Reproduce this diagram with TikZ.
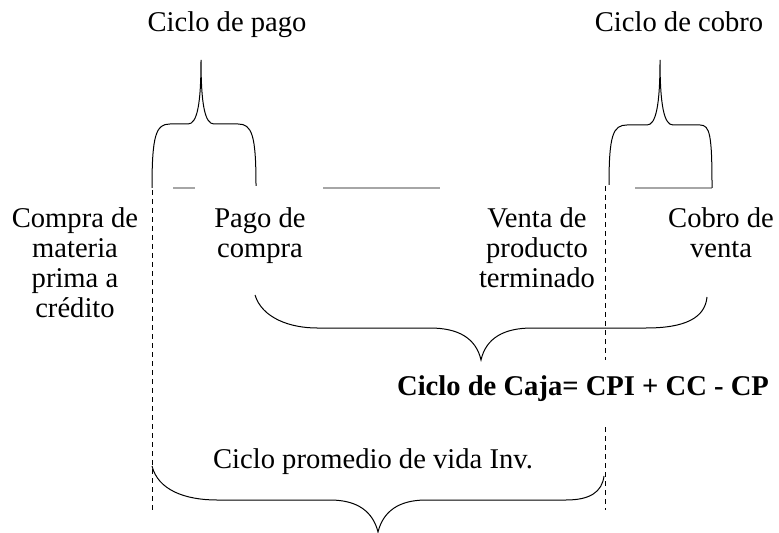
\documentclass[tikz,border=0pt]{standalone}
\usepackage{fontspec}
\setmainfont{Liberation Serif}
\usepackage{tikz}

\begin{document}
\begin{tikzpicture}[x=0.5pt, y=-0.5pt, line width=0.5pt,
  txt/.style={font=\fontsize{14.3}{15}\selectfont, inner sep=0pt, align=center},
  guide/.style={dash pattern=on 2.5pt off 2pt},
  bar/.style={line width=1pt, black!35}]

  \useasboundingbox (0,0) rectangle (779,533);

  \node [txt, anchor=base] (cicloPago)  at (227,32) {Ciclo de pago};
  \node [txt, anchor=base] (cicloCobro) at (679,32) {Ciclo de cobro};

  \node [txt, anchor=north] (compra) at ( 75,207) {Compra de\\materia\\prima a\\crédito};
  \node [txt, anchor=north] (pago)   at (260,207) {Pago de\\compra};
  \node [txt, anchor=north] (venta)  at (537,207) {Venta de\\producto\\terminado};
  \node [txt, anchor=north] (cobro)  at (721,207) {Cobro de\\venta};

  \node [txt, anchor=base, font=\fontsize{14.3}{15}\selectfont\bfseries] (caja) at (583,395) {Ciclo de Caja= CPI + CC - CP};
  \node [txt, anchor=base] (inv) at (373,468) {Ciclo promedio de vida Inv.};

  % time marks
  \draw [guide] (152,190) -- (152,510);
  \draw [guide] (605,186) -- (605,360);
  \draw [guide] (605,427) -- (605,510);

  \draw [bar] (173,188) -- (195,188);
  \draw [bar] (323,188) -- (440,188);
  \draw [bar] (635,188) -- (712,188);

  % braces
  \draw (152,188) .. controls (152,135) and (156,124) .. (170,124) -- (188,124)
        .. controls (197,124) and (201,105) .. (201,60)
        .. controls (201,105) and (205,124) .. (214,124) -- (238,124)
        .. controls (252,124) and (256,135) .. (256,186);
  \draw (609,185) .. controls (609,135) and (613,125) .. (627,125) -- (647,125)
        .. controls (656,125) and (660,105) .. (660,60)
        .. controls (660,105) and (664,125) .. (673,125) -- (700,125)
        .. controls (710,125) and (712,135) .. (712,188);
  \draw (255,295) .. controls (262,318) and (290,328) .. (317,328) -- (430,328)
        .. controls (458,328) and (476,338) .. (481,360)
        .. controls (486,338) and (504,328) .. (532,328) -- (646,328)
        .. controls (685,328) and (705,318) .. (707,297);
  \draw (152,466) .. controls (158,490) and (185,500) .. (217,500) -- (330,500)
        .. controls (358,500) and (373,512) .. (378,532)
        .. controls (383,512) and (398,500) .. (426,500) -- (566,500)
        .. controls (590,500) and (602,492) .. (604,476);

\end{tikzpicture}
\end{document}
